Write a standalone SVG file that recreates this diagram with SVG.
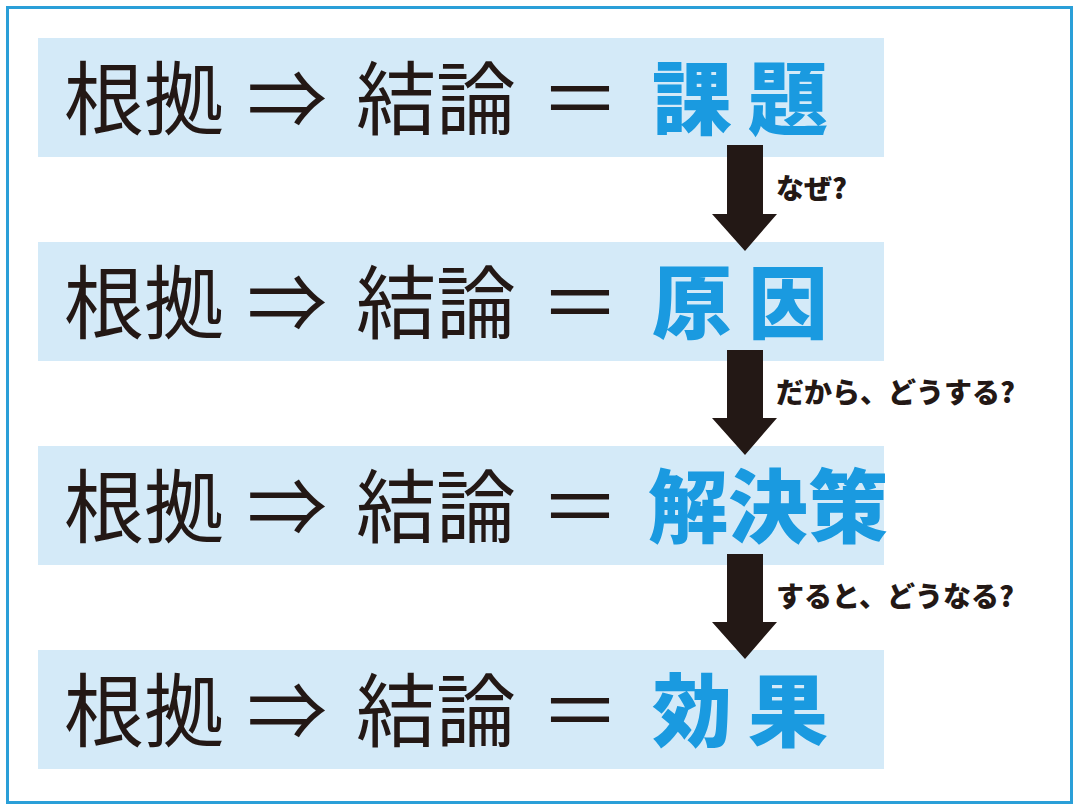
<svg xmlns="http://www.w3.org/2000/svg" width="1080" height="812" viewBox="0 0 1080 812">
<style>
.band{fill:#d4eaf8}
.k{font-family:"Noto Sans CJK JP",sans-serif;font-size:80px;fill:#231815}
.b{font-family:"Noto Sans CJK JP",sans-serif;font-size:80px;font-weight:900;fill:#1a9ae0}
.l{font-family:"Noto Sans CJK JP",sans-serif;font-size:28px;font-weight:900;fill:#231815}
.ar{fill:#231815}
</style>
<rect x="0" y="0" width="1080" height="812" fill="#fff"/>
<rect x="7.5" y="7.5" width="1064" height="795" fill="none" stroke="#2a9fd8" stroke-width="3"/>
<g id="row1"><rect class="band" x="38" y="38" width="846" height="119"/>
<text class="k" x="64" y="128">根拠</text><text class="k" x="247" y="128">⇒</text><text class="k" x="356" y="128">結論</text><text class="k" x="540" y="128">＝</text><text class="b" x="652" y="128" letter-spacing="16">課題</text></g>
<g id="row2"><rect class="band" x="38" y="242" width="846" height="119"/>
<text class="k" x="64" y="332">根拠</text><text class="k" x="247" y="332">⇒</text><text class="k" x="356" y="332">結論</text><text class="k" x="540" y="332">＝</text><text class="b" x="652" y="332" letter-spacing="16">原因</text></g>
<g id="row3"><rect class="band" x="38" y="446" width="846" height="119"/>
<text class="k" x="64" y="536">根拠</text><text class="k" x="247" y="536">⇒</text><text class="k" x="356" y="536">結論</text><text class="k" x="540" y="536">＝</text><text class="b" x="648" y="536">解決策</text></g>
<g id="row4"><rect class="band" x="38" y="650" width="846" height="119"/>
<text class="k" x="64" y="740">根拠</text><text class="k" x="247" y="740">⇒</text><text class="k" x="356" y="740">結論</text><text class="k" x="540" y="740">＝</text><text class="b" x="652" y="740" letter-spacing="16">効果</text></g>
<g id="connectors">
<polygon class="ar" points="727,145 763,145 763,214 777,214 745,251 712,214 727,214"/>
<polygon class="ar" points="727,350 763,350 763,418 777,418 745,455 712,418 727,418"/>
<polygon class="ar" points="727,554 763,554 763,622 777,622 745,659 712,622 727,622"/>
<text class="l" x="776" y="199">なぜ?</text>
<text class="l" x="776" y="403">だから、どうする?</text>
<text class="l" x="776" y="607">すると、どうなる?</text>
</g>
</svg>
